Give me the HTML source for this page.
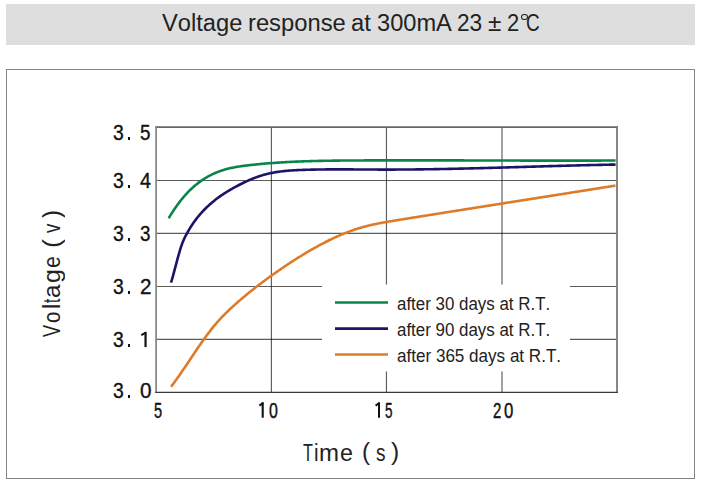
<!DOCTYPE html>
<html><head><meta charset="utf-8">
<style>
html,body{margin:0;padding:0;background:#fff;}
body{width:701px;height:484px;position:relative;overflow:hidden;font-family:"Liberation Sans",sans-serif;color:#1a1a1a;}
#hdr{position:absolute;left:6px;top:4px;width:689px;height:41px;background:#dedede;}
#box{position:absolute;left:6px;top:69px;width:687px;height:408px;border:1px solid #858585;}
svg{position:absolute;left:0;top:0;}
.t{position:absolute;white-space:nowrap;color:#111;transform-origin:0 0;font-kerning:none;}
</style></head>
<body>
<div id="hdr"></div>
<div id="box"></div>
<svg width="701" height="484" viewBox="0 0 701 484">
  <g fill="none" stroke-linecap="butt">
    <g stroke="#000" stroke-opacity="0.64" stroke-width="1.15">
      <line x1="156" y1="180.45" x2="617" y2="180.45"/>
      <line x1="156" y1="233.3" x2="617" y2="233.3"/>
      <line x1="156" y1="286.5" x2="617" y2="286.5"/>
      <line x1="156" y1="339.4" x2="617" y2="339.4"/>
      <line x1="271.4" y1="127" x2="271.4" y2="392"/>
      <line x1="386.45" y1="127" x2="386.45" y2="392"/>
      <line x1="502" y1="127" x2="502" y2="392"/>
    </g>
    <line x1="155.2" y1="127.1" x2="617.9" y2="127.1" stroke="#666" stroke-width="1.6"/>
    <line x1="617" y1="126.3" x2="617" y2="392.9" stroke="#7a7a7a" stroke-width="1.8"/>
    <line x1="156.1" y1="126.3" x2="156.1" y2="392.9" stroke="#8a8a8a" stroke-width="1.8"/>
    <line x1="155.2" y1="392.35" x2="617.9" y2="392.35" stroke="#3a3a3a" stroke-width="1.1"/>
    <rect x="322" y="284.5" width="248" height="87" fill="#fff" stroke="none"/>
    <path stroke="#0a854a" stroke-width="2.6" stroke-linejoin="round" d="M168.7,218.26 L169.7,216.58 L170.7,214.94 L171.7,213.34 L172.7,211.78 L173.7,210.25 L174.7,208.76 L175.7,207.31 L176.7,205.89 L177.7,204.51 L178.7,203.16 L179.7,201.84 L180.7,200.56 L181.7,199.31 L182.7,198.09 L183.7,196.91 L184.7,195.76 L185.7,194.63 L186.7,193.54 L187.7,192.48 L188.7,191.45 L189.7,190.44 L190.7,189.47 L191.7,188.52 L192.7,187.60 L193.7,186.70 L194.7,185.83 L195.7,184.99 L196.7,184.17 L197.7,183.38 L198.7,182.61 L199.7,181.87 L200.7,181.14 L201.7,180.44 L202.7,179.77 L203.7,179.11 L204.7,178.48 L205.7,177.86 L206.7,177.27 L207.7,176.70 L208.7,176.14 L209.7,175.61 L210.7,175.09 L211.7,174.60 L212.7,174.12 L213.7,173.66 L214.7,173.21 L215.7,172.78 L216.7,172.37 L217.7,171.98 L218.7,171.60 L219.7,171.23 L220.7,170.88 L221.7,170.54 L222.7,170.22 L223.7,169.91 L224.7,169.61 L225.7,169.33 L226.7,169.06 L227.7,168.79 L228.7,168.55 L229.7,168.31 L230.7,168.08 L231.7,167.86 L232.7,167.65 L233.7,167.45 L234.7,167.26 L235.7,167.07 L236.7,166.90 L237.7,166.73 L238.7,166.57 L239.7,166.41 L240.7,166.26 L241.7,166.12 L242.7,165.98 L243.7,165.85 L244.7,165.72 L245.7,165.60 L246.7,165.48 L247.7,165.36 L248.7,165.24 L249.7,165.13 L250.7,165.02 L251.7,164.91 L252.7,164.80 L253.7,164.70 L254.7,164.59 L255.7,164.49 L256.7,164.39 L257.7,164.29 L258.7,164.20 L259.7,164.10 L260.7,164.01 L261.7,163.91 L262.7,163.82 L263.7,163.74 L264.7,163.65 L265.7,163.56 L266.7,163.48 L267.7,163.40 L268.7,163.32 L269.7,163.24 L270.7,163.16 L271.7,163.08 L272.7,163.01 L273.7,162.94 L274.7,162.86 L275.7,162.79 L276.7,162.72 L277.7,162.66 L278.7,162.59 L279.7,162.53 L280.7,162.46 L281.7,162.40 L282.7,162.34 L283.7,162.28 L284.7,162.22 L285.7,162.17 L286.7,162.11 L287.7,162.06 L288.7,162.00 L289.7,161.95 L290.7,161.90 L291.7,161.85 L292.7,161.80 L293.7,161.76 L294.7,161.71 L295.7,161.67 L296.7,161.62 L297.7,161.58 L298.7,161.54 L299.7,161.50 L300.7,161.46 L301.7,161.42 L302.7,161.38 L303.7,161.35 L304.7,161.31 L305.7,161.28 L306.7,161.24 L307.7,161.21 L308.7,161.18 L309.7,161.15 L310.7,161.12 L311.7,161.09 L312.7,161.06 L313.7,161.04 L314.7,161.01 L315.7,160.98 L316.7,160.96 L317.7,160.94 L318.7,160.91 L319.7,160.89 L320.7,160.87 L321.7,160.85 L322.7,160.83 L323.7,160.81 L324.7,160.79 L325.7,160.77 L326.7,160.76 L327.7,160.74 L328.7,160.72 L329.7,160.71 L330.7,160.69 L331.7,160.68 L332.7,160.66 L333.7,160.65 L334.7,160.64 L335.7,160.63 L336.7,160.61 L337.7,160.60 L338.7,160.59 L339.7,160.58 L340.7,160.57 L341.7,160.56 L342.7,160.55 L343.7,160.54 L344.7,160.54 L345.7,160.53 L346.7,160.52 L347.7,160.51 L348.7,160.51 L349.7,160.50 L350.7,160.49 L351.7,160.49 L352.7,160.48 L353.7,160.47 L354.7,160.47 L355.7,160.46 L356.7,160.46 L357.7,160.45 L358.7,160.45 L359.7,160.44 L360.7,160.44 L361.7,160.44 L362.7,160.43 L363.7,160.43 L364.7,160.42 L365.7,160.42 L366.7,160.41 L367.7,160.41 L368.7,160.41 L369.7,160.40 L370.7,160.40 L371.7,160.40 L372.7,160.39 L373.7,160.39 L374.7,160.39 L375.7,160.38 L376.7,160.38 L377.7,160.38 L378.7,160.38 L379.7,160.37 L380.7,160.37 L381.7,160.37 L382.7,160.37 L383.7,160.37 L384.7,160.36 L385.7,160.36 L386.7,160.36 L387.7,160.36 L388.7,160.36 L389.7,160.35 L390.7,160.35 L391.7,160.35 L392.7,160.35 L393.7,160.35 L394.7,160.35 L395.7,160.35 L396.7,160.35 L397.7,160.34 L398.7,160.34 L399.7,160.34 L400.7,160.34 L401.7,160.34 L402.7,160.34 L403.7,160.34 L404.7,160.34 L405.7,160.34 L406.7,160.34 L407.7,160.34 L408.7,160.34 L409.7,160.34 L410.7,160.34 L411.7,160.34 L412.7,160.34 L413.7,160.34 L414.7,160.34 L415.7,160.34 L416.7,160.34 L417.7,160.34 L418.7,160.34 L419.7,160.34 L420.7,160.35 L421.7,160.35 L422.7,160.35 L423.7,160.35 L424.7,160.35 L425.7,160.35 L426.7,160.35 L427.7,160.35 L428.7,160.35 L429.7,160.36 L430.7,160.36 L431.7,160.36 L432.7,160.36 L433.7,160.36 L434.7,160.36 L435.7,160.36 L436.7,160.37 L437.7,160.37 L438.7,160.37 L439.7,160.37 L440.7,160.37 L441.7,160.37 L442.7,160.38 L443.7,160.38 L444.7,160.38 L445.7,160.38 L446.7,160.38 L447.7,160.39 L448.7,160.39 L449.7,160.39 L450.7,160.39 L451.7,160.40 L452.7,160.40 L453.7,160.40 L454.7,160.40 L455.7,160.40 L456.7,160.41 L457.7,160.41 L458.7,160.41 L459.7,160.41 L460.7,160.42 L461.7,160.42 L462.7,160.42 L463.7,160.42 L464.7,160.43 L465.7,160.43 L466.7,160.43 L467.7,160.43 L468.7,160.44 L469.7,160.44 L470.7,160.44 L471.7,160.45 L472.7,160.45 L473.7,160.45 L474.7,160.45 L475.7,160.46 L476.7,160.46 L477.7,160.46 L478.7,160.46 L479.7,160.47 L480.7,160.47 L481.7,160.47 L482.7,160.48 L483.7,160.48 L484.7,160.48 L485.7,160.48 L486.7,160.49 L487.7,160.49 L488.7,160.49 L489.7,160.50 L490.7,160.50 L491.7,160.50 L492.7,160.50 L493.7,160.51 L494.7,160.51 L495.7,160.51 L496.7,160.51 L497.7,160.52 L498.7,160.52 L499.7,160.52 L500.7,160.53 L501.7,160.53 L502.7,160.53 L503.7,160.53 L504.7,160.54 L505.7,160.54 L506.7,160.54 L507.7,160.54 L508.7,160.55 L509.7,160.55 L510.7,160.55 L511.7,160.55 L512.7,160.56 L513.7,160.56 L514.7,160.56 L515.7,160.56 L516.7,160.57 L517.7,160.57 L518.7,160.57 L519.7,160.57 L520.7,160.58 L521.7,160.58 L522.7,160.58 L523.7,160.58 L524.7,160.58 L525.7,160.59 L526.7,160.59 L527.7,160.59 L528.7,160.59 L529.7,160.60 L530.7,160.60 L531.7,160.60 L532.7,160.60 L533.7,160.60 L534.7,160.60 L535.7,160.61 L536.7,160.61 L537.7,160.61 L538.7,160.61 L539.7,160.61 L540.7,160.61 L541.7,160.62 L542.7,160.62 L543.7,160.62 L544.7,160.62 L545.7,160.62 L546.7,160.62 L547.7,160.62 L548.7,160.62 L549.7,160.62 L550.7,160.63 L551.7,160.63 L552.7,160.63 L553.7,160.63 L554.7,160.63 L555.7,160.63 L556.7,160.63 L557.7,160.63 L558.7,160.63 L559.7,160.63 L560.7,160.63 L561.7,160.63 L562.7,160.63 L563.7,160.63 L564.7,160.63 L565.7,160.63 L566.7,160.63 L567.7,160.63 L568.7,160.63 L569.7,160.63 L570.7,160.63 L571.7,160.63 L572.7,160.63 L573.7,160.63 L574.7,160.63 L575.7,160.63 L576.7,160.63 L577.7,160.63 L578.7,160.62 L579.7,160.62 L580.7,160.62 L581.7,160.62 L582.7,160.62 L583.7,160.62 L584.7,160.62 L585.7,160.61 L586.7,160.61 L587.7,160.61 L588.7,160.61 L589.7,160.61 L590.7,160.60 L591.7,160.60 L592.7,160.60 L593.7,160.60 L594.7,160.59 L595.7,160.59 L596.7,160.59 L597.7,160.59 L598.7,160.58 L599.7,160.58 L600.7,160.58 L601.7,160.57 L602.7,160.57 L603.7,160.57 L604.7,160.56 L605.7,160.56 L606.7,160.56 L607.7,160.55 L608.7,160.55 L609.7,160.54 L610.7,160.54 L611.7,160.54 L612.7,160.53 L613.7,160.53 L614.7,160.52 L615.6,160.52"/>
    <path stroke="#1c1466" stroke-width="2.6" stroke-linejoin="round" d="M171.0,282.67 L172.0,279.36 L173.0,275.85 L174.0,272.18 L175.0,268.43 L176.0,264.64 L177.0,260.86 L178.0,257.14 L179.0,253.55 L180.0,250.14 L181.0,246.96 L182.0,244.05 L183.0,241.46 L184.0,239.14 L185.0,237.03 L186.0,235.08 L187.0,233.26 L188.0,231.50 L189.0,229.80 L190.0,228.15 L191.0,226.56 L192.0,225.02 L193.0,223.54 L194.0,222.10 L195.0,220.71 L196.0,219.36 L197.0,218.06 L198.0,216.80 L199.0,215.57 L200.0,214.39 L201.0,213.25 L202.0,212.13 L203.0,211.05 L204.0,210.01 L205.0,208.99 L206.0,208.00 L207.0,207.03 L208.0,206.09 L209.0,205.17 L210.0,204.27 L211.0,203.40 L212.0,202.54 L213.0,201.71 L214.0,200.89 L215.0,200.09 L216.0,199.31 L217.0,198.55 L218.0,197.81 L219.0,197.08 L220.0,196.36 L221.0,195.67 L222.0,194.98 L223.0,194.31 L224.0,193.66 L225.0,193.01 L226.0,192.38 L227.0,191.76 L228.0,191.15 L229.0,190.55 L230.0,189.96 L231.0,189.38 L232.0,188.80 L233.0,188.24 L234.0,187.68 L235.0,187.13 L236.0,186.58 L237.0,186.05 L238.0,185.52 L239.0,184.99 L240.0,184.48 L241.0,183.97 L242.0,183.47 L243.0,182.98 L244.0,182.50 L245.0,182.03 L246.0,181.56 L247.0,181.10 L248.0,180.65 L249.0,180.21 L250.0,179.78 L251.0,179.36 L252.0,178.95 L253.0,178.55 L254.0,178.15 L255.0,177.77 L256.0,177.40 L257.0,177.04 L258.0,176.68 L259.0,176.34 L260.0,176.01 L261.0,175.69 L262.0,175.38 L263.0,175.08 L264.0,174.79 L265.0,174.51 L266.0,174.25 L267.0,173.99 L268.0,173.75 L269.0,173.51 L270.0,173.29 L271.0,173.08 L272.0,172.87 L273.0,172.68 L274.0,172.50 L275.0,172.32 L276.0,172.15 L277.0,171.99 L278.0,171.84 L279.0,171.70 L280.0,171.57 L281.0,171.44 L282.0,171.32 L283.0,171.20 L284.0,171.09 L285.0,170.99 L286.0,170.90 L287.0,170.81 L288.0,170.72 L289.0,170.64 L290.0,170.57 L291.0,170.50 L292.0,170.43 L293.0,170.37 L294.0,170.31 L295.0,170.26 L296.0,170.21 L297.0,170.16 L298.0,170.11 L299.0,170.07 L300.0,170.03 L301.0,169.99 L302.0,169.95 L303.0,169.91 L304.0,169.88 L305.0,169.84 L306.0,169.81 L307.0,169.78 L308.0,169.75 L309.0,169.72 L310.0,169.70 L311.0,169.67 L312.0,169.65 L313.0,169.62 L314.0,169.60 L315.0,169.58 L316.0,169.56 L317.0,169.54 L318.0,169.53 L319.0,169.51 L320.0,169.49 L321.0,169.48 L322.0,169.47 L323.0,169.45 L324.0,169.44 L325.0,169.43 L326.0,169.42 L327.0,169.42 L328.0,169.41 L329.0,169.40 L330.0,169.39 L331.0,169.39 L332.0,169.38 L333.0,169.38 L334.0,169.38 L335.0,169.38 L336.0,169.37 L337.0,169.37 L338.0,169.37 L339.0,169.37 L340.0,169.37 L341.0,169.37 L342.0,169.38 L343.0,169.38 L344.0,169.38 L345.0,169.38 L346.0,169.39 L347.0,169.39 L348.0,169.40 L349.0,169.40 L350.0,169.41 L351.0,169.41 L352.0,169.42 L353.0,169.42 L354.0,169.43 L355.0,169.44 L356.0,169.44 L357.0,169.45 L358.0,169.45 L359.0,169.46 L360.0,169.47 L361.0,169.48 L362.0,169.48 L363.0,169.49 L364.0,169.50 L365.0,169.50 L366.0,169.51 L367.0,169.52 L368.0,169.52 L369.0,169.53 L370.0,169.53 L371.0,169.54 L372.0,169.55 L373.0,169.55 L374.0,169.56 L375.0,169.56 L376.0,169.57 L377.0,169.57 L378.0,169.58 L379.0,169.58 L380.0,169.58 L381.0,169.58 L382.0,169.59 L383.0,169.59 L384.0,169.59 L385.0,169.59 L386.0,169.59 L387.0,169.59 L388.0,169.59 L389.0,169.59 L390.0,169.59 L391.0,169.59 L392.0,169.59 L393.0,169.58 L394.0,169.58 L395.0,169.58 L396.0,169.57 L397.0,169.57 L398.0,169.56 L399.0,169.56 L400.0,169.55 L401.0,169.55 L402.0,169.54 L403.0,169.54 L404.0,169.53 L405.0,169.52 L406.0,169.52 L407.0,169.51 L408.0,169.50 L409.0,169.49 L410.0,169.48 L411.0,169.47 L412.0,169.46 L413.0,169.45 L414.0,169.44 L415.0,169.43 L416.0,169.42 L417.0,169.41 L418.0,169.40 L419.0,169.39 L420.0,169.37 L421.0,169.36 L422.0,169.35 L423.0,169.34 L424.0,169.32 L425.0,169.31 L426.0,169.29 L427.0,169.28 L428.0,169.26 L429.0,169.25 L430.0,169.23 L431.0,169.22 L432.0,169.20 L433.0,169.19 L434.0,169.17 L435.0,169.15 L436.0,169.14 L437.0,169.12 L438.0,169.10 L439.0,169.08 L440.0,169.06 L441.0,169.05 L442.0,169.03 L443.0,169.01 L444.0,168.99 L445.0,168.97 L446.0,168.95 L447.0,168.93 L448.0,168.91 L449.0,168.89 L450.0,168.87 L451.0,168.85 L452.0,168.83 L453.0,168.81 L454.0,168.78 L455.0,168.76 L456.0,168.74 L457.0,168.72 L458.0,168.70 L459.0,168.67 L460.0,168.65 L461.0,168.63 L462.0,168.60 L463.0,168.58 L464.0,168.56 L465.0,168.53 L466.0,168.51 L467.0,168.49 L468.0,168.46 L469.0,168.44 L470.0,168.41 L471.0,168.39 L472.0,168.36 L473.0,168.34 L474.0,168.31 L475.0,168.29 L476.0,168.26 L477.0,168.23 L478.0,168.21 L479.0,168.18 L480.0,168.16 L481.0,168.13 L482.0,168.10 L483.0,168.08 L484.0,168.05 L485.0,168.02 L486.0,168.00 L487.0,167.97 L488.0,167.94 L489.0,167.91 L490.0,167.89 L491.0,167.86 L492.0,167.83 L493.0,167.80 L494.0,167.78 L495.0,167.75 L496.0,167.72 L497.0,167.69 L498.0,167.66 L499.0,167.63 L500.0,167.61 L501.0,167.58 L502.0,167.55 L503.0,167.52 L504.0,167.49 L505.0,167.46 L506.0,167.43 L507.0,167.40 L508.0,167.38 L509.0,167.35 L510.0,167.32 L511.0,167.29 L512.0,167.26 L513.0,167.23 L514.0,167.20 L515.0,167.17 L516.0,167.14 L517.0,167.11 L518.0,167.08 L519.0,167.05 L520.0,167.02 L521.0,166.99 L522.0,166.97 L523.0,166.94 L524.0,166.91 L525.0,166.88 L526.0,166.85 L527.0,166.82 L528.0,166.79 L529.0,166.76 L530.0,166.73 L531.0,166.70 L532.0,166.67 L533.0,166.64 L534.0,166.61 L535.0,166.58 L536.0,166.55 L537.0,166.52 L538.0,166.49 L539.0,166.46 L540.0,166.43 L541.0,166.41 L542.0,166.38 L543.0,166.35 L544.0,166.32 L545.0,166.29 L546.0,166.26 L547.0,166.23 L548.0,166.20 L549.0,166.17 L550.0,166.15 L551.0,166.12 L552.0,166.09 L553.0,166.06 L554.0,166.03 L555.0,166.00 L556.0,165.97 L557.0,165.95 L558.0,165.92 L559.0,165.89 L560.0,165.86 L561.0,165.84 L562.0,165.81 L563.0,165.78 L564.0,165.75 L565.0,165.73 L566.0,165.70 L567.0,165.67 L568.0,165.64 L569.0,165.62 L570.0,165.59 L571.0,165.56 L572.0,165.54 L573.0,165.51 L574.0,165.49 L575.0,165.46 L576.0,165.43 L577.0,165.41 L578.0,165.38 L579.0,165.36 L580.0,165.33 L581.0,165.31 L582.0,165.28 L583.0,165.26 L584.0,165.23 L585.0,165.21 L586.0,165.18 L587.0,165.16 L588.0,165.14 L589.0,165.11 L590.0,165.09 L591.0,165.07 L592.0,165.04 L593.0,165.02 L594.0,165.00 L595.0,164.98 L596.0,164.95 L597.0,164.93 L598.0,164.91 L599.0,164.89 L600.0,164.87 L601.0,164.85 L602.0,164.83 L603.0,164.80 L604.0,164.78 L605.0,164.76 L606.0,164.74 L607.0,164.72 L608.0,164.70 L609.0,164.69 L610.0,164.67 L611.0,164.65 L612.0,164.63 L613.0,164.61 L614.0,164.59 L615.0,164.58 L615.6,164.57"/>
    <path stroke="#de7b29" stroke-width="2.6" stroke-linejoin="round" d="M171.1,386.66 L172.1,385.34 L173.1,384.00 L174.1,382.65 L175.1,381.28 L176.1,379.89 L177.1,378.49 L178.1,377.08 L179.1,375.65 L180.1,374.22 L181.1,372.77 L182.1,371.31 L183.1,369.85 L184.1,368.37 L185.1,366.90 L186.1,365.41 L187.1,363.93 L188.1,362.44 L189.1,360.94 L190.1,359.45 L191.1,357.96 L192.1,356.46 L193.1,354.97 L194.1,353.49 L195.1,352.00 L196.1,350.53 L197.1,349.05 L198.1,347.59 L199.1,346.13 L200.1,344.69 L201.1,343.25 L202.1,341.83 L203.1,340.41 L204.1,339.01 L205.1,337.63 L206.1,336.26 L207.1,334.91 L208.1,333.57 L209.1,332.25 L210.1,330.95 L211.1,329.66 L212.1,328.40 L213.1,327.15 L214.1,325.93 L215.1,324.73 L216.1,323.54 L217.1,322.39 L218.1,321.25 L219.1,320.14 L220.1,319.04 L221.1,317.97 L222.1,316.92 L223.1,315.89 L224.1,314.87 L225.1,313.87 L226.1,312.88 L227.1,311.91 L228.1,310.95 L229.1,310.00 L230.1,309.06 L231.1,308.14 L232.1,307.22 L233.1,306.30 L234.1,305.40 L235.1,304.50 L236.1,303.61 L237.1,302.72 L238.1,301.85 L239.1,300.98 L240.1,300.11 L241.1,299.25 L242.1,298.40 L243.1,297.55 L244.1,296.71 L245.1,295.88 L246.1,295.05 L247.1,294.23 L248.1,293.41 L249.1,292.60 L250.1,291.79 L251.1,290.99 L252.1,290.20 L253.1,289.41 L254.1,288.62 L255.1,287.84 L256.1,287.06 L257.1,286.29 L258.1,285.52 L259.1,284.76 L260.1,284.00 L261.1,283.25 L262.1,282.50 L263.1,281.75 L264.1,281.01 L265.1,280.27 L266.1,279.53 L267.1,278.80 L268.1,278.07 L269.1,277.35 L270.1,276.63 L271.1,275.91 L272.1,275.19 L273.1,274.48 L274.1,273.77 L275.1,273.07 L276.1,272.36 L277.1,271.66 L278.1,270.96 L279.1,270.27 L280.1,269.58 L281.1,268.89 L282.1,268.21 L283.1,267.53 L284.1,266.85 L285.1,266.17 L286.1,265.50 L287.1,264.83 L288.1,264.17 L289.1,263.51 L290.1,262.85 L291.1,262.20 L292.1,261.55 L293.1,260.90 L294.1,260.26 L295.1,259.62 L296.1,258.98 L297.1,258.35 L298.1,257.72 L299.1,257.10 L300.1,256.48 L301.1,255.86 L302.1,255.24 L303.1,254.64 L304.1,254.03 L305.1,253.43 L306.1,252.83 L307.1,252.24 L308.1,251.65 L309.1,251.06 L310.1,250.48 L311.1,249.90 L312.1,249.33 L313.1,248.76 L314.1,248.20 L315.1,247.63 L316.1,247.08 L317.1,246.53 L318.1,245.98 L319.1,245.44 L320.1,244.90 L321.1,244.37 L322.1,243.84 L323.1,243.31 L324.1,242.79 L325.1,242.28 L326.1,241.77 L327.1,241.27 L328.1,240.77 L329.1,240.27 L330.1,239.78 L331.1,239.30 L332.1,238.82 L333.1,238.35 L334.1,237.89 L335.1,237.42 L336.1,236.97 L337.1,236.52 L338.1,236.08 L339.1,235.64 L340.1,235.21 L341.1,234.78 L342.1,234.36 L343.1,233.95 L344.1,233.54 L345.1,233.14 L346.1,232.74 L347.1,232.35 L348.1,231.97 L349.1,231.60 L350.1,231.23 L351.1,230.87 L352.1,230.51 L353.1,230.16 L354.1,229.82 L355.1,229.49 L356.1,229.16 L357.1,228.84 L358.1,228.52 L359.1,228.22 L360.1,227.92 L361.1,227.63 L362.1,227.34 L363.1,227.06 L364.1,226.79 L365.1,226.52 L366.1,226.26 L367.1,226.01 L368.1,225.76 L369.1,225.52 L370.1,225.28 L371.1,225.05 L372.1,224.82 L373.1,224.60 L374.1,224.38 L375.1,224.16 L376.1,223.95 L377.1,223.75 L378.1,223.55 L379.1,223.35 L380.1,223.16 L381.1,222.96 L382.1,222.78 L383.1,222.59 L384.1,222.41 L385.1,222.23 L386.1,222.05 L387.1,221.88 L388.1,221.71 L389.1,221.54 L390.1,221.37 L391.1,221.20 L392.1,221.04 L393.1,220.87 L394.1,220.71 L395.1,220.54 L396.1,220.38 L397.1,220.22 L398.1,220.06 L399.1,219.90 L400.1,219.74 L401.1,219.58 L402.1,219.42 L403.1,219.26 L404.1,219.09 L405.1,218.93 L406.1,218.77 L407.1,218.61 L408.1,218.45 L409.1,218.29 L410.1,218.13 L411.1,217.97 L412.1,217.81 L413.1,217.65 L414.1,217.49 L415.1,217.33 L416.1,217.17 L417.1,217.01 L418.1,216.85 L419.1,216.69 L420.1,216.53 L421.1,216.37 L422.1,216.21 L423.1,216.05 L424.1,215.89 L425.1,215.73 L426.1,215.57 L427.1,215.41 L428.1,215.25 L429.1,215.09 L430.1,214.93 L431.1,214.77 L432.1,214.61 L433.1,214.46 L434.1,214.30 L435.1,214.14 L436.1,213.98 L437.1,213.82 L438.1,213.66 L439.1,213.50 L440.1,213.34 L441.1,213.18 L442.1,213.02 L443.1,212.86 L444.1,212.71 L445.1,212.55 L446.1,212.39 L447.1,212.23 L448.1,212.07 L449.1,211.91 L450.1,211.75 L451.1,211.59 L452.1,211.44 L453.1,211.28 L454.1,211.12 L455.1,210.96 L456.1,210.80 L457.1,210.64 L458.1,210.49 L459.1,210.33 L460.1,210.17 L461.1,210.01 L462.1,209.85 L463.1,209.69 L464.1,209.54 L465.1,209.38 L466.1,209.22 L467.1,209.06 L468.1,208.90 L469.1,208.74 L470.1,208.59 L471.1,208.43 L472.1,208.27 L473.1,208.11 L474.1,207.95 L475.1,207.80 L476.1,207.64 L477.1,207.48 L478.1,207.32 L479.1,207.16 L480.1,207.01 L481.1,206.85 L482.1,206.69 L483.1,206.53 L484.1,206.38 L485.1,206.22 L486.1,206.06 L487.1,205.90 L488.1,205.74 L489.1,205.59 L490.1,205.43 L491.1,205.27 L492.1,205.11 L493.1,204.96 L494.1,204.80 L495.1,204.64 L496.1,204.48 L497.1,204.32 L498.1,204.17 L499.1,204.01 L500.1,203.85 L501.1,203.69 L502.1,203.54 L503.1,203.38 L504.1,203.22 L505.1,203.06 L506.1,202.91 L507.1,202.75 L508.1,202.59 L509.1,202.43 L510.1,202.28 L511.1,202.12 L512.1,201.96 L513.1,201.80 L514.1,201.65 L515.1,201.49 L516.1,201.33 L517.1,201.17 L518.1,201.02 L519.1,200.86 L520.1,200.70 L521.1,200.54 L522.1,200.39 L523.1,200.23 L524.1,200.07 L525.1,199.91 L526.1,199.75 L527.1,199.60 L528.1,199.44 L529.1,199.28 L530.1,199.12 L531.1,198.97 L532.1,198.81 L533.1,198.65 L534.1,198.49 L535.1,198.34 L536.1,198.18 L537.1,198.02 L538.1,197.86 L539.1,197.70 L540.1,197.55 L541.1,197.39 L542.1,197.23 L543.1,197.07 L544.1,196.92 L545.1,196.76 L546.1,196.60 L547.1,196.44 L548.1,196.28 L549.1,196.13 L550.1,195.97 L551.1,195.81 L552.1,195.65 L553.1,195.50 L554.1,195.34 L555.1,195.18 L556.1,195.02 L557.1,194.86 L558.1,194.71 L559.1,194.55 L560.1,194.39 L561.1,194.23 L562.1,194.07 L563.1,193.91 L564.1,193.76 L565.1,193.60 L566.1,193.44 L567.1,193.28 L568.1,193.12 L569.1,192.96 L570.1,192.81 L571.1,192.65 L572.1,192.49 L573.1,192.33 L574.1,192.17 L575.1,192.01 L576.1,191.86 L577.1,191.70 L578.1,191.54 L579.1,191.38 L580.1,191.22 L581.1,191.06 L582.1,190.90 L583.1,190.74 L584.1,190.59 L585.1,190.43 L586.1,190.27 L587.1,190.11 L588.1,189.95 L589.1,189.79 L590.1,189.63 L591.1,189.47 L592.1,189.31 L593.1,189.15 L594.1,189.00 L595.1,188.84 L596.1,188.68 L597.1,188.52 L598.1,188.36 L599.1,188.20 L600.1,188.04 L601.1,187.88 L602.1,187.72 L603.1,187.56 L604.1,187.40 L605.1,187.24 L606.1,187.08 L607.1,186.92 L608.1,186.76 L609.1,186.60 L610.1,186.44 L611.1,186.28 L612.1,186.12 L613.1,185.96 L614.1,185.80 L615.1,185.64 L615.4,185.59"/>
    <line x1="335" y1="302.5" x2="388" y2="302.5" stroke="#0a854a" stroke-width="2.6"/>
    <line x1="335" y1="328.6" x2="388" y2="328.6" stroke="#1c1466" stroke-width="2.6"/>
    <line x1="335" y1="354.5" x2="388" y2="354.5" stroke="#de7b29" stroke-width="2.6"/>
    <line x1="145.55" y1="331.9" x2="145.55" y2="347.1" stroke="#111" stroke-width="2.2"/>
<line x1="145.85000000000002" y1="332.7" x2="141.3" y2="335.2" stroke="#111" stroke-width="2"/>
<line x1="262.7" y1="402.2" x2="262.7" y2="417.7" stroke="#111" stroke-width="2.1"/>
<line x1="263.0" y1="403.0" x2="259.4" y2="405.6" stroke="#111" stroke-width="2"/>
<line x1="379.0" y1="402.2" x2="379.0" y2="417.7" stroke="#111" stroke-width="2.0"/>
<line x1="379.3" y1="403.0" x2="375.6" y2="405.6" stroke="#111" stroke-width="2"/>
  </g>
</svg>
<span class="t" style="left:162.00px;top:12.00px;font-size:23px;line-height:23px;transform:scaleX(1.0301);color:#222;">Voltage</span>
<span class="t" style="left:247.82px;top:12.00px;font-size:23px;line-height:23px;transform:scaleX(1.0329);color:#222;">response</span>
<span class="t" style="left:350.79px;top:12.00px;font-size:23px;line-height:23px;transform:scaleX(1.0313);color:#222;">at</span>
<span class="t" style="left:376.50px;top:12.00px;font-size:23px;line-height:23px;transform:scaleX(1.0271);color:#222;">300mA</span>
<span class="t" style="left:457.16px;top:12.00px;font-size:23px;line-height:23px;transform:scaleX(0.9865);color:#222;">23</span>
<span class="t" style="left:488.03px;top:12.00px;font-size:23px;line-height:23px;transform:scaleX(1.0560);color:#222;">±</span>
<span class="t" style="left:506.70px;top:12.00px;font-size:23px;line-height:23px;transform:scaleX(0.9544);color:#222;">2</span>
<span class="t" style="left:526.34px;top:12.00px;font-size:23px;line-height:23px;transform:scaleX(0.8238);color:#222;">C</span>
<span class="t" style="left:521.2px;top:13.5px;width:7px;height:6.6px;border:1.5px solid #222;border-radius:50%;box-sizing:border-box;"></span>
<span class="t" style="left:112.56px;top:123.00px;font-size:21.5px;line-height:21.5px;transform:scaleX(0.9025);color:#111;-webkit-text-stroke:0.35px #111;">3</span>
<span class="t" style="left:139.85px;top:123.00px;font-size:21.5px;line-height:21.5px;transform:scaleX(0.8731);color:#111;-webkit-text-stroke:0.35px #111;">5</span>
<span class="t" style="left:127.6px;top:137.3px;width:2.7px;height:2.7px;background:#111;"></span>
<span class="t" style="left:112.56px;top:171.00px;font-size:21.5px;line-height:21.5px;transform:scaleX(0.9025);color:#111;-webkit-text-stroke:0.35px #111;">3</span>
<span class="t" style="left:140.15px;top:171.00px;font-size:21.5px;line-height:21.5px;transform:scaleX(0.9138);color:#111;-webkit-text-stroke:0.35px #111;">4</span>
<span class="t" style="left:127.6px;top:185.3px;width:2.7px;height:2.7px;background:#111;"></span>
<span class="t" style="left:112.56px;top:224.00px;font-size:21.5px;line-height:21.5px;transform:scaleX(0.9025);color:#111;-webkit-text-stroke:0.35px #111;">3</span>
<span class="t" style="left:139.89px;top:224.00px;font-size:21.5px;line-height:21.5px;transform:scaleX(0.8731);color:#111;-webkit-text-stroke:0.35px #111;">3</span>
<span class="t" style="left:127.6px;top:238.3px;width:2.7px;height:2.7px;background:#111;"></span>
<span class="t" style="left:112.56px;top:277.00px;font-size:21.5px;line-height:21.5px;transform:scaleX(0.9025);color:#111;-webkit-text-stroke:0.35px #111;">3</span>
<span class="t" style="left:139.56px;top:277.00px;font-size:21.5px;line-height:21.5px;transform:scaleX(0.9597);color:#111;-webkit-text-stroke:0.35px #111;">2</span>
<span class="t" style="left:127.6px;top:291.3px;width:2.7px;height:2.7px;background:#111;"></span>
<span class="t" style="left:112.56px;top:330.00px;font-size:21.5px;line-height:21.5px;transform:scaleX(0.9025);color:#111;-webkit-text-stroke:0.35px #111;">3</span>
<span class="t" style="left:127.6px;top:344.3px;width:2.7px;height:2.7px;background:#111;"></span>
<span class="t" style="left:112.56px;top:381.00px;font-size:21.5px;line-height:21.5px;transform:scaleX(0.9025);color:#111;-webkit-text-stroke:0.35px #111;">3</span>
<span class="t" style="left:139.79px;top:381.00px;font-size:21.5px;line-height:21.5px;transform:scaleX(0.9633);color:#111;-webkit-text-stroke:0.35px #111;">0</span>
<span class="t" style="left:127.6px;top:395.3px;width:2.7px;height:2.7px;background:#111;"></span>
<span class="t" style="left:153.72px;top:400.00px;font-size:22.5px;line-height:22.5px;transform:scaleX(0.6468);color:#111;-webkit-text-stroke:0.45px #111;">5</span>
<span class="t" style="left:268.58px;top:400.00px;font-size:22.5px;line-height:22.5px;transform:scaleX(0.7066);color:#111;-webkit-text-stroke:0.45px #111;">0</span>
<span class="t" style="left:384.86px;top:400.00px;font-size:22.5px;line-height:22.5px;transform:scaleX(0.5999);color:#111;-webkit-text-stroke:0.45px #111;">5</span>
<span class="t" style="left:493.45px;top:400.00px;font-size:22.5px;line-height:22.5px;transform:scaleX(0.6634);color:#111;-webkit-text-stroke:0.45px #111;">2</span>
<span class="t" style="left:503.55px;top:400.00px;font-size:22.5px;line-height:22.5px;transform:scaleX(0.7438);color:#111;-webkit-text-stroke:0.45px #111;">0</span>
<span class="t" style="left:397.28px;top:296.00px;font-size:17.5px;line-height:17.5px;transform:scaleX(0.9661);color:#222;">after 30 days at R.T.</span>
<span class="t" style="left:397.28px;top:322.00px;font-size:17.5px;line-height:17.5px;transform:scaleX(0.9661);color:#222;">after 90 days at R.T.</span>
<span class="t" style="left:397.48px;top:348.00px;font-size:17.5px;line-height:17.5px;transform:scaleX(0.9751);color:#222;">after 365 days at R.T.</span>
<span class="t" style="left:302.53px;top:442px;font-size:23.5px;line-height:23.5px;color:#222;transform:scaleX(0.6924);">T</span>
<span class="t" style="left:314.33px;top:442px;font-size:23.5px;line-height:23.5px;color:#222;transform:scaleX(0.8715);">i</span>
<span class="t" style="left:319.41px;top:442px;font-size:23.5px;line-height:23.5px;color:#222;transform:scaleX(1.0203);">m</span>
<span class="t" style="left:340.21px;top:442px;font-size:23.5px;line-height:23.5px;color:#222;transform:scaleX(0.9885);">e</span>
<span class="t" style="left:362.20px;top:441px;font-size:23.5px;line-height:23.5px;color:#222;transform:scaleX(1.0272);">(</span>
<span class="t" style="left:375.67px;top:442px;font-size:23.5px;line-height:23.5px;color:#222;transform:scaleX(0.8100);">s</span>
<span class="t" style="left:391.36px;top:441px;font-size:23.5px;line-height:23.5px;color:#222;transform:scaleX(1.0432);">)</span>
<div style="position:absolute;left:40.60px;top:337.00px;width:0;height:0;transform-origin:0 0;transform:rotate(-90deg);"><span class="t" style="left:0.32px;top:0px;font-size:23.5px;line-height:23.5px;color:#222;transform:scaleX(0.7693);">V</span><span class="t" style="left:14.45px;top:0px;font-size:23.5px;line-height:23.5px;color:#222;transform:scaleX(0.8652);">o</span><span class="t" style="left:28.13px;top:0px;font-size:23.5px;line-height:23.5px;color:#222;">l</span><span class="t" style="left:33.82px;top:0px;font-size:23.5px;line-height:23.5px;color:#222;transform:scaleX(0.6500);">t</span><span class="t" style="left:38.67px;top:0px;font-size:23.5px;line-height:23.5px;color:#222;transform:scaleX(1.0272);">a</span><span class="t" style="left:53.55px;top:0px;font-size:23.5px;line-height:23.5px;color:#222;transform:scaleX(1.0598);">g</span><span class="t" style="left:68.60px;top:0px;font-size:23.5px;line-height:23.5px;color:#222;transform:scaleX(0.8978);">e</span><span class="t" style="left:89.46px;top:0px;font-size:23.5px;line-height:23.5px;color:#222;transform:scaleX(1.1235);">(</span><span class="t" style="left:103.64px;top:0px;font-size:23.5px;line-height:23.5px;color:#222;transform:scaleX(0.8025);">v</span><span class="t" style="left:118.86px;top:0px;font-size:23.5px;line-height:23.5px;color:#222;transform:scaleX(1.0111);">)</span></div>
</body></html>
